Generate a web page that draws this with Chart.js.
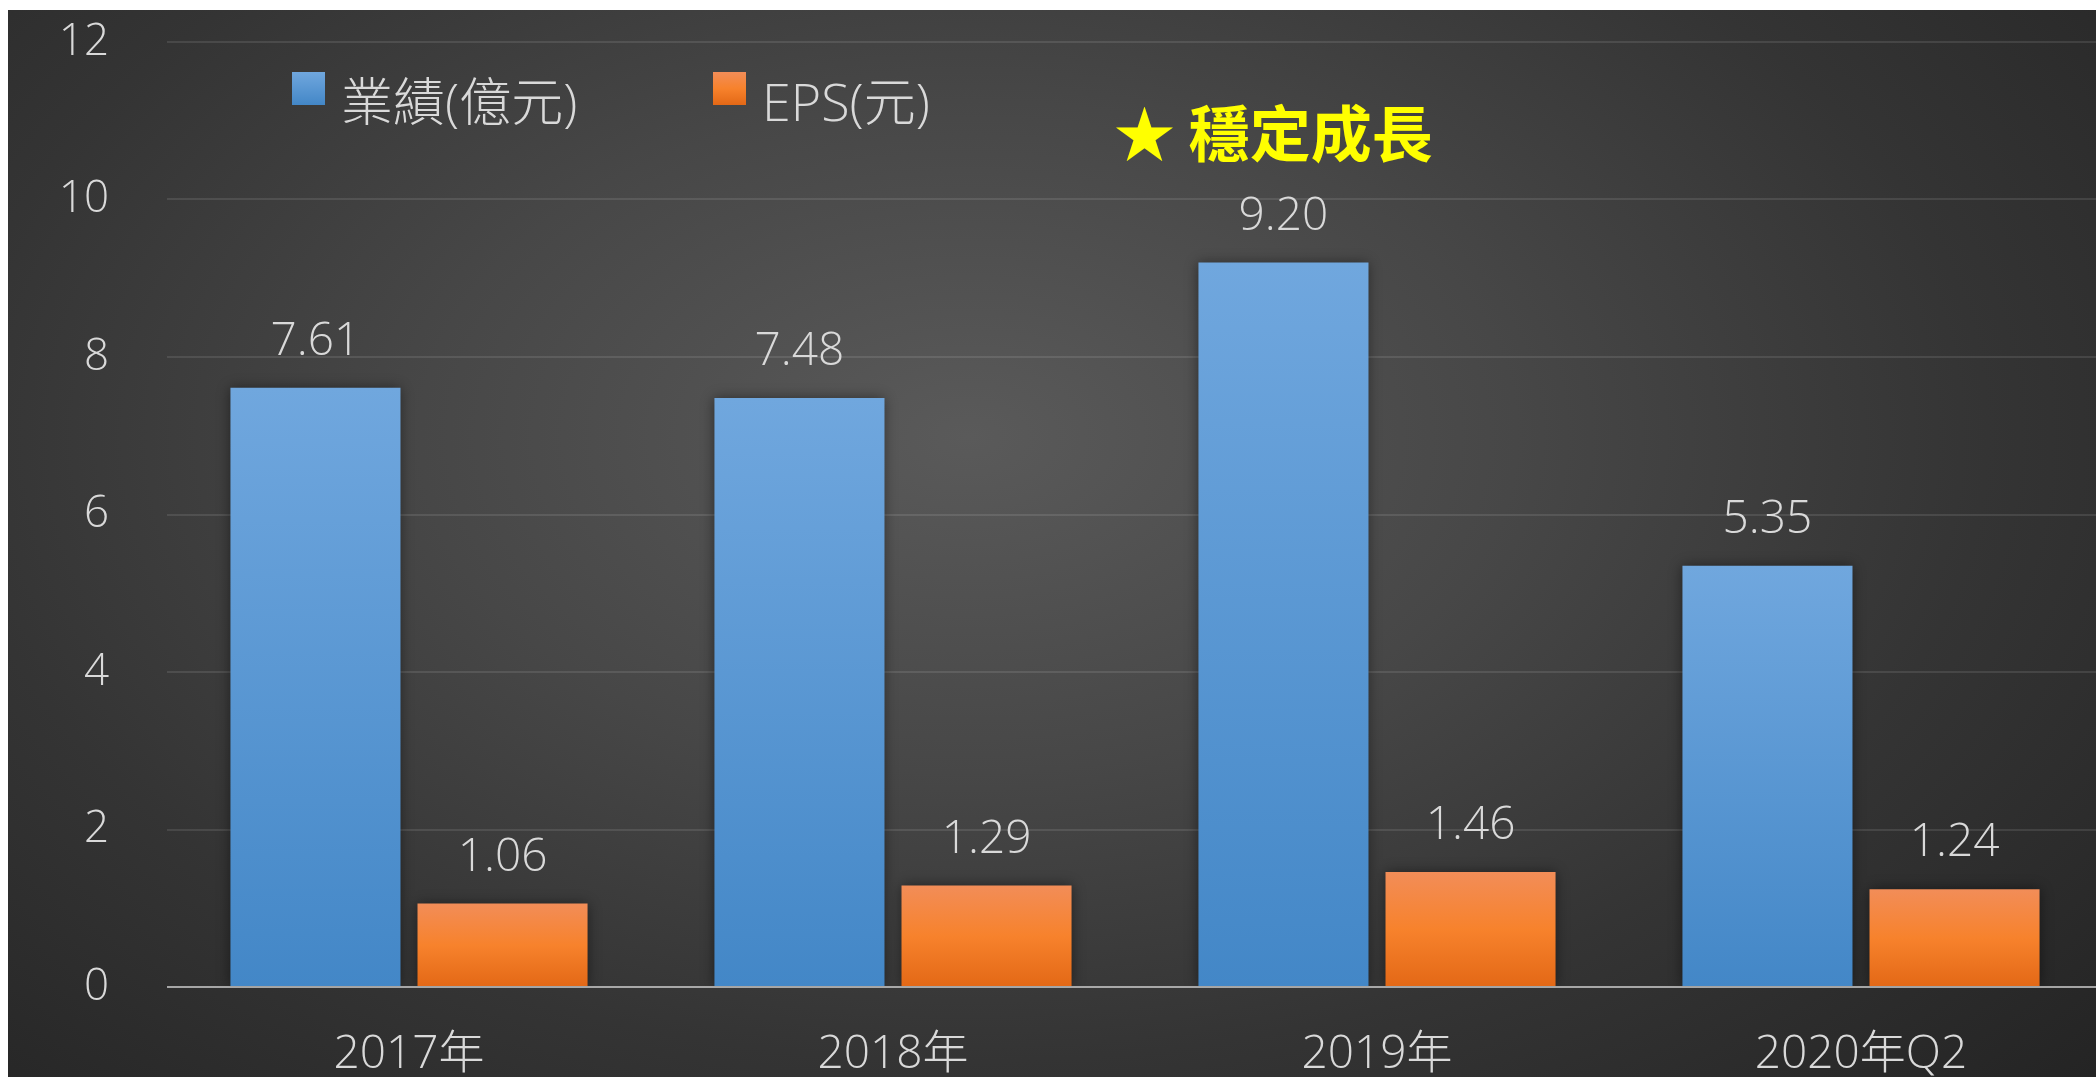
<!DOCTYPE html>
<html>
<head>
<meta charset="utf-8">
<script src="https://cdn.jsdelivr.net/npm/chart.js@4"></script>
<style>
  html, body { margin: 0; padding: 0; background: #fff; overflow: hidden; }
  #panel {
    position: absolute; left: 8px; top: 10px; width: 2088px; height: 1067px; overflow: hidden;
    background: radial-gradient(ellipse 75% 90% at 46% 40%, #5a5a5a 0%, #474747 35%, #343434 65%, #232323 100%);
  }
  #myChart { position: absolute; left: 0; top: 0; }
</style>
</head>
<body>
<div id="panel"><canvas id="myChart" width="2095" height="1067"></canvas></div>
<script>
const categories = ['2017年', '2018年', '2019年', '2020年Q2'];
const revenue = [7.61, 7.48, 9.20, 5.35]; // 業績(億元)
const eps = [1.06, 1.29, 1.46, 1.24];     // EPS(元)
const seriesNames = ['業績(億元)', 'EPS(元)'];
const titleText = '★ 穩定成長';

const FONT = '"Open Sans", "Noto Sans CJK TC", sans-serif';
const TEXT = '#d9d9d9';

const blueStops = [[0, '#70a7de'], [1, '#4387c7']];
const orangeStops = [[0, '#f28d58'], [0.5, '#f7822c'], [1, '#e36816']];

// gradient per bar, from its top down to zero
function barGradient(context, stops) {
  const chart = context.chart;
  if (!chart.chartArea || context.raw === undefined) return stops[0][1];
  const top = chart.scales.y.getPixelForValue(context.raw);
  const bottom = chart.scales.y.getPixelForValue(0);
  const g = chart.ctx.createLinearGradient(0, top, 0, bottom);
  stops.forEach(([o, c]) => g.addColorStop(o, c));
  return g;
}

const decorations = {
  id: 'decorations',
  beforeDatasetsDraw(chart) {
    const ctx = chart.ctx;
    ctx.save();
    ctx.shadowColor = 'rgba(0,0,0,0.45)';
    ctx.shadowBlur = 12;
  },
  afterDatasetsDraw(chart) {
    const ctx = chart.ctx;
    ctx.restore();
    const { left, right } = chart.chartArea;
    const y0 = chart.scales.y.getPixelForValue(0);

    // zero line on top of the bars
    ctx.save();
    ctx.strokeStyle = 'rgba(200,200,200,0.75)';
    ctx.lineWidth = 2;
    ctx.beginPath();
    ctx.moveTo(left, y0);
    ctx.lineTo(right, y0);
    ctx.stroke();

    // value labels
    ctx.fillStyle = TEXT;
    ctx.font = '300 46px ' + FONT;
    ctx.textAlign = 'center';
    ctx.textBaseline = 'middle';
    chart.data.datasets.forEach((ds, i) => {
      chart.getDatasetMeta(i).data.forEach((bar, j) => {
        ctx.fillText(ds.data[j].toFixed(2), bar.x, bar.y - 46);
      });
    });

    // legend
    const legendX = [284, 705];
    ctx.textAlign = 'left';
    ctx.font = '300 52px ' + FONT;
    chart.data.datasets.forEach((ds, i) => {
      const x = legendX[i];
      const stops = i === 0 ? blueStops : orangeStops;
      const g = ctx.createLinearGradient(0, 62, 0, 95);
      stops.forEach(([o, c]) => g.addColorStop(o, c));
      ctx.fillStyle = g;
      ctx.fillRect(x, 62, 33, 33);
      ctx.fillStyle = TEXT;
      ctx.fillText(ds.label, x + 49, 96);
    });

    // title
    ctx.fillStyle = '#ffff00';
    ctx.font = 'bold 61px "Noto Sans CJK TC", sans-serif';
    ctx.fillText(titleText, 1106, 124);
    ctx.restore();
  }
};

const data = {
  labels: categories,
  datasets: [
    {
      label: seriesNames[0],
      data: revenue,
      backgroundColor: (c) => barGradient(c, blueStops),
      categoryPercentage: 0.773,
      barPercentage: 0.909,
    },
    {
      label: seriesNames[1],
      data: eps,
      backgroundColor: (c) => barGradient(c, orangeStops),
      categoryPercentage: 0.773,
      barPercentage: 0.909,
    },
  ],
};

const config = {
  type: 'bar',
  data: data,
  plugins: [decorations],
  options: {
    responsive: false,
    animation: false,
    devicePixelRatio: 1,
    layout: { padding: { top: 32, left: 0, right: 0, bottom: 0 } },
    plugins: {
      legend: { display: false },
      tooltip: { enabled: false },
    },
    scales: {
      x: {
        grid: { display: false, drawTicks: false },
        border: { display: false },
        ticks: {
          color: TEXT,
          font: { family: FONT, size: 46, weight: 300 },
          padding: 40,
          maxRotation: 0,
        },
        afterFit: (scale) => { scale.height = 90; scale.paddingLeft = 0; scale.paddingRight = 0; },
      },
      y: {
        min: 0,
        max: 12,
        grid: { color: 'rgba(255,255,255,0.1)', lineWidth: 2, drawTicks: false },
        border: { display: false },
        ticks: {
          stepSize: 2,
          color: TEXT,
          font: { family: FONT, size: 44, weight: 300 },
          padding: 58,
        },
        afterFit: (scale) => { scale.width = 159; scale.paddingTop = 0; scale.paddingBottom = 0; },
      },
    },
  },
};

const myChart = new Chart(document.getElementById('myChart').getContext('2d'), config);
</script>
</body>
</html>
